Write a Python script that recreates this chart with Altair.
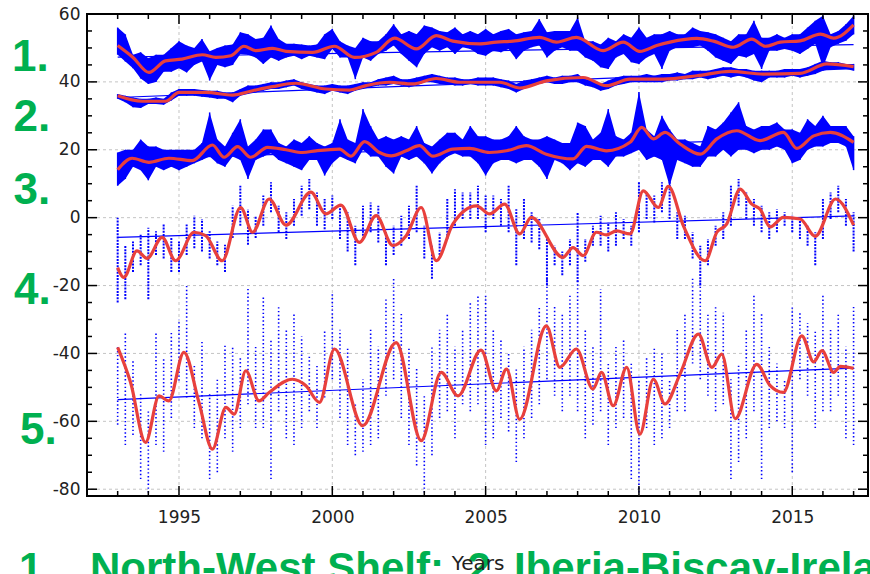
import altair as alt
import pandas as pd

# ---------------- data ----------------
bin_years = [1993 + q / 4 for q in range(97)]  # quarter-year sampling grid 1993.0 .. 2017.0

s1_hi = [56, 54, 48, 48.7, 47, 48, 48, 50, 52, 50.7, 50, 52.6, 49, 50, 50.7, 51,
         54.6, 54, 52.6, 53, 56.6, 52.6, 51.2, 51.2, 51, 50.7, 51, 54, 55.6, 52, 50.7, 50,
         53, 52, 52, 54, 57, 54, 55, 54, 56.6, 56, 55, 54.6, 56, 54, 55, 54,
         55.6, 54, 55, 55.6, 54, 54.6, 55, 58.5, 54.6, 55, 55, 55, 59, 52, 52, 51,
         53, 52, 54, 53, 56, 53, 54, 54, 55, 54, 54, 56, 55, 54.6, 54, 53,
         52, 54, 54, 58, 53, 53, 54, 53, 54, 54, 56, 58, 59.5, 54, 55, 57, 59.5]
s1_lo = [48, 46, 44, 41, 39.4, 40, 43, 43, 44, 42.8, 45, 46, 40.4, 45, 44.3, 45,
         48.2, 48, 47.2, 45.3, 47.2, 46.2, 47.2, 47.7, 46.7, 47.7, 47.2, 46.7, 49.7, 47.2, 47.2, 40.8,
         47.2, 46.2, 48.2, 49.2, 50.7, 48.2, 46.2, 44.3, 48.2, 50.2, 49.2, 50.2, 48.2, 50.2, 49.7, 48.2,
         47.7, 49.2, 48.7, 49.7, 46.7, 49.2, 50.2, 50.7, 47.2, 49.2, 50.2, 49.2, 49.2, 47.2, 46.2, 44.3,
         43.8, 47.2, 48.2, 45.8, 45.3, 47.2, 48.2, 43.8, 49.2, 50.2, 50.2, 50.2, 50.7, 49.2, 47.2, 46.2,
         45.3, 47.7, 47.2, 48.2, 43.8, 49.2, 49.2, 49.7, 49.2, 48.2, 49.7, 51.2, 44.3, 50.2, 51.2, 52.1, 54]

s2_hi = [36.4, 35.9, 35.4, 35.0, 35.0, 35.4, 35.0, 36.9, 37.9, 37.9, 37.9, 37.6, 37.4, 37.4, 36.9, 36.9,
         37.9, 38.9, 38.9, 39.4, 39.9, 39.9, 40.4, 40.8, 39.9, 39.4, 38.9, 38.9, 39.4, 38.9, 38.9, 39.4,
         39.9, 39.9, 40.8, 41.3, 41.8, 40.8, 40.8, 41.3, 41.8, 42.3, 41.8, 41.3, 41.3, 40.8, 40.8, 41.3,
         41.3, 41.3, 40.8, 40.4, 39.4, 40.4, 40.8, 41.3, 41.8, 41.3, 41.8, 41.8, 42.3, 40.8, 40.4, 39.4,
         40.4, 41.3, 41.8, 41.8, 41.8, 42.3, 41.8, 42.3, 42.3, 42.8, 42.3, 43.3, 43.3, 43.3, 43.8, 44.3,
         44.3, 43.8, 43.8, 43.3, 43.3, 43.3, 43.3, 43.8, 43.8, 43.8, 44.3, 45.3, 46.2, 45.8, 45.8, 45.3, 45.3]
s2_lo = [35.0, 34.0, 32.5, 32.3, 33.5, 33.5, 33.3, 34.5, 35.9, 35.9, 35.9, 35.6, 35.4, 35.0, 35.0, 34.0,
         35.9, 36.4, 36.9, 37.4, 37.9, 37.9, 38.4, 38.9, 37.9, 37.4, 36.9, 36.4, 37.4, 36.9, 36.4, 37.4,
         37.9, 38.4, 38.9, 38.9, 39.4, 38.9, 38.4, 38.9, 39.9, 39.9, 39.4, 39.4, 38.9, 38.9, 39.4, 38.9,
         38.9, 38.9, 38.4, 37.9, 36.9, 37.9, 38.9, 39.4, 39.9, 39.4, 39.4, 39.9, 39.9, 38.9, 38.4, 37.4,
         37.9, 38.9, 39.4, 39.9, 39.9, 39.9, 39.9, 39.9, 40.4, 40.4, 40.8, 40.8, 41.3, 40.8, 41.3, 41.8,
         41.3, 41.8, 41.3, 40.4, 39.9, 41.3, 41.3, 41.3, 41.8, 41.3, 41.8, 42.3, 43.3, 43.8, 43.8, 43.8, 43.3]

s3_hi = [19.2, 20, 20, 23, 21, 21, 20, 20, 20, 20, 20, 22, 31, 23, 21, 25,
         29, 21, 23, 26, 26, 22, 21, 23, 22, 24, 22, 21, 22, 29, 23, 22,
         32, 27, 23, 24, 23, 24, 23, 27, 22, 21, 23, 25, 25, 23, 27, 24,
         24, 23, 23, 24, 27, 24, 23, 23, 24, 23, 22, 22, 28, 27, 23, 25,
         32, 24, 23, 25, 37, 26, 24, 30, 26, 23, 23, 22, 21, 27, 26, 28,
         31, 34, 27, 26, 27, 27, 28, 26, 26, 25, 29, 27, 30, 27, 27, 27, 24]
s3_lo = [9.4, 11.4, 15, 14, 11, 15, 14, 15, 14, 15, 16, 17, 18, 16, 15, 18,
         17, 11.4, 17, 18, 19, 17, 16, 15, 14, 17, 17, 12.4, 16, 18, 17, 16,
         20, 18, 18, 15, 13, 18, 17, 18, 16, 13, 16, 18, 19, 18, 18, 16,
         12.4, 16, 17, 17, 16, 17, 17, 15, 11.4, 17, 16, 14, 16, 15, 17, 17,
         15, 18, 18, 19, 20, 17, 18, 17, 9.4, 17, 16, 15, 15, 18, 18, 20,
         18, 20, 20, 19, 20, 20, 21, 20, 16, 17, 20, 21, 21, 22, 22, 21, 14]

s4_hi = [0, -8, -7, -5, -3, -4, -2, -6, -7, -2, 0.6, -0.4, -4, -7, -8, 3.5,
         9.4, 2.5, 0.6, 6.5, 10.4, 3.5, 1.6, 5.5, 9.4, 11.4, 7.4, 5.5, 6.5, 3.5, 1.6, -2.4,
         3.5, 4.5, 3.5, -4.3, -2.4, 0.6, 3.5, 9.4, -2.4, -8.3, -4.3, 5.5, 8.4, 7.4, 7.4, 9.4,
         6.5, 6.5, 5.5, 9.4, 2.5, 5.5, 1.6, -0.4, -6.3, -8.3, -10, -6.3, 1.6, -6.3, -2.4, 0.6,
         -1.4, 1.6, -0.4, -2.4, 10.4, 7.4, 6.5, 10.4, 15, 1.6, 0.6, -4.3, -8.3, -6.3, -2.4, 1.6,
         9.4, 11.4, 7.4, 5.5, 3.5, 1.6, 2.5, 1.6, 0.6, -0.4, -2.4, -4.3, 5.5, 7.4, 9.4, 5.5, 1.6]
s4_lo = [-25, -24, -16, -14, -24, -11, -12, -16, -16, -11, -9, -10, -12, -14, -16, -6,
         -2.4, -8, -6, -2.4, 1.6, -4.3, -6.3, -2.4, 0.6, 2.5, -2.4, -3.4, -0.4, -6.3, -10, -14,
         -6.3, -4.3, -7.3, -14, -11, -8.3, -6.3, -4.3, -12, -18, -11, -6.3, -2.4, -0.4, -0.4, -0.4,
         -4.3, -0.4, -2.4, -4.3, -14, -6.3, -7.3, -9.3, -20, -14, -17, -14, -19, -13, -8.3, -8.3,
         -10, -8.3, -6.3, -8.3, -4.3, -0.4, -1.4, 1.6, -0.4, -6.3, -6.3, -12, -20, -14, -8.3, -6.3,
         -2.4, 3.5, -0.4, -2.4, -4.3, -6.3, -4.3, -2.4, -4.3, -6.3, -8.3, -14, -6.3, -0.4, 1.6, -2.4, -10]

s5_hi = [-38, -34, -42, -52, -57, -34, -41, -34, -30, -20, -43, -36, -52, -47.6, -37, -38,
         -41, -21, -38, -23, -36, -26, -33, -28, -35, -41, -43, -33, -22, -33, -38, -55,
         -47.6, -33, -38, -24, -18, -28, -38, -44, -52.5, -38, -33, -28, -38, -33, -25, -23,
         -23, -33, -36, -40, -44, -38, -33, -26, -18, -26, -28, -23, -18, -33, -38, -21,
         -43, -38, -36, -43, -47.6, -41, -38, -40, -47.6, -33, -28, -18, -19, -28, -26, -28,
         -47.6, -43, -33, -23, -28, -38, -43, -47.6, -26, -28, -31, -33, -23, -33, -28, -38, -26]
s5_lo = [-61, -67, -64, -77, -81, -67, -69, -59, -48, -53, -62, -65, -77, -75, -65, -69,
         -62, -55, -62, -62, -77, -57, -65, -67, -62, -57, -62, -53, -47.6, -59, -67, -70,
         -69, -67, -65, -52.5, -47.6, -59, -67, -73, -81, -70, -59, -57, -65, -55, -57, -55,
         -67, -65, -59, -63, -72, -65, -59, -55, -47.6, -52.5, -57, -52.5, -57, -65, -61, -57,
         -67, -62, -59, -77, -81, -62, -67, -65, -62, -57, -57, -43, -47.6, -52.5, -57, -55,
         -77, -72, -65, -57, -77, -62, -60, -62, -75, -47.6, -52.5, -62, -57, -57, -52.5, -65, -67]

# smoothed (red) curves
r1_x = [1993.0, 1993.5, 1994.02, 1994.56, 1995.1, 1995.76, 1996.2, 1996.69, 1997.12, 1997.5, 1998.05,
        1998.49, 1999.36, 2000.07, 2000.72, 2001.43, 2002.03, 2002.74, 2003.39, 2003.93, 2004.8, 2005.35,
        2005.89, 2006.76, 2007.31, 2007.96, 2008.83, 2009.49, 2010.03, 2010.58, 2011.01, 2011.89, 2012.43,
        2013.08, 2013.68, 2014.12, 2014.61, 2015.26, 2015.92, 2016.35, 2017.0]
r1_y = [50.7, 47.2, 42.8, 46.2, 46.7, 48.0, 47.2, 47.7, 50.5, 49.2, 49.9,
        49.0, 48.7, 50.5, 47.2, 48.7, 52.9, 49.7, 53.6, 52.0, 51.2, 51.7,
        52.0, 53.1, 51.7, 53.1, 49.2, 51.7, 49.0, 50.7, 51.7, 52.8, 52.0,
        50.2, 52.6, 50.5, 51.7, 52.1, 54.1, 52.9, 56.8]

r2_x = [1993.0, 1993.8, 1994.56, 1995.0, 1995.87, 1996.74, 1997.4, 1998.05, 1998.81, 1999.79, 2000.56,
        2001.1, 2001.86, 2002.62, 2003.39, 2004.15, 2005.46, 2006.11, 2006.98, 2008.18, 2008.94, 2009.71,
        2010.79, 2011.89, 2012.97, 2014.06, 2015.26, 2016.13, 2017.0]
r2_y = [35.9, 34.3, 34.3, 36.9, 36.9, 36.1, 37.4, 38.6, 39.6, 37.9, 37.6,
        38.9, 39.9, 39.4, 41.0, 39.9, 39.9, 38.2, 40.3, 41.3, 38.9, 40.8,
        40.8, 41.8, 43.1, 42.3, 42.5, 45.3, 44.5]

r3_x = [1993.0, 1993.47, 1994.02, 1994.67, 1995.43, 1996.09, 1996.47, 1996.91, 1997.34, 1997.89, 1998.49,
        1999.03, 1999.47, 2000.23, 2000.61, 2001.05, 2001.54, 2001.92, 2002.41, 2002.84, 2003.28, 2003.93,
        2004.48, 2005.13, 2005.68, 2006.33, 2006.98, 2007.85, 2008.29, 2008.94, 2009.71, 2010.09, 2010.47,
        2010.85, 2011.34, 2012.0, 2012.54, 2013.19, 2013.95, 2014.71, 2015.15, 2015.7, 2016.24, 2017.0]
r3_y = [14.1, 17.5, 16.3, 17.5, 16.8, 21.4, 17.8, 20.9, 17.8, 20.7, 20.0,
        19.2, 19.7, 20.2, 18.1, 22.4, 19.2, 18.2, 19.7, 21.2, 18.1, 20.2,
        20.4, 19.2, 19.7, 21.2, 18.7, 17.3, 21.0, 19.7, 22.2, 26.6, 23.2,
        25.1, 21.7, 18.7, 23.2, 25.6, 22.7, 25.1, 20.4, 24.1, 25.1, 22.2]

r4_x = [1993.0, 1993.2, 1993.63, 1993.96, 1994.45, 1994.89, 1995.49, 1995.87, 1996.41, 1997.01, 1997.4,
        1997.94, 1998.49, 1999.3, 1999.79, 2000.28, 2000.88, 2001.43, 2001.97, 2002.41, 2002.9, 2003.39,
        2003.93, 2004.7, 2005.13, 2005.62, 2006.11, 2006.49, 2007.52, 2007.85, 2008.18, 2008.61, 2008.94,
        2009.27, 2009.71, 2010.14, 2010.63, 2010.96, 2011.45, 2012.16, 2012.54, 2012.86, 2013.3, 2013.68,
        2013.95, 2014.28, 2014.71, 2015.26, 2015.75, 2016.41, 2017.0]
r4_y = [-14.7, -17.6, -9.8, -12.0, -5.8, -12.7, -4.3, -5.3, -12.7, 3.0, -4.3,
        5.5, -2.2, 7.5, 1.1, 3.7, -7.3, 0.6, -8.2, -5.3, 3.0, -12.7,
        -1.9, 3.5, 1.1, 4.0, -4.8, 0.1, -11.7, -8.8, -11.2, -4.3, -5.1,
        -3.9, -4.8, 7.9, 3.0, 9.2, -2.4, -12.7, -4.3, -1.9, 8.4, 4.0,
        2.5, -2.7, 0.1, -0.4, -5.5, 5.5, -2.2]

r5_x = [1993.0, 1993.42, 1993.91, 1994.35, 1994.67, 1995.16, 1995.65, 1996.09, 1996.53, 1996.8, 1997.18,
        1997.61, 1997.94, 1998.7, 1999.14, 1999.58, 2000.07, 2000.99, 2002.08, 2002.9, 2003.55, 2004.1,
        2004.85, 2005.35, 2005.68, 2006.11, 2006.98, 2007.42, 2007.96, 2008.5, 2008.78, 2009.16, 2009.6,
        2010.03, 2010.47, 2010.85, 2011.34, 2011.94, 2012.38, 2012.7, 2013.14, 2013.84, 2014.28, 2014.71,
        2015.31, 2015.7, 2015.97, 2016.35, 2016.57, 2017.0]
r5_y = [-38.2, -48.5, -66.2, -52.5, -54.0, -39.7, -54.4, -68.2, -55.9, -57.9, -45.1,
        -54.0, -51.5, -47.6, -49.5, -54.4, -38.7, -61.3, -36.8, -65.7, -45.6, -52.5,
        -39.0, -51.0, -44.6, -59.4, -31.9, -44.1, -38.7, -50.5, -45.6, -55.4, -44.1,
        -63.8, -47.6, -54.9, -46.1, -34.3, -44.1, -40.2, -59.2, -43.2, -49.5, -51.5,
        -34.8, -42.5, -39.2, -45.6, -43.8, -44.4]

# linear trends (start 1993, end 2017)
trend_x = [1993.0, 2017.0]
trend_start = [47.3, 35.4, 17.2, -5.8, -53.6]
trend_end = [51.0, 43.9, 23.7, 0.5, -44.3]

region_labels = ["1.", "2.", "3.", "4.", "5."]
region_label_y = [43.2, 25.5, 4.0, -25.5, -66.7]
bottom_num = "1."
bottom_text = "North-West Shelf;\u00a0 2. Iberia-Biscay-Ireland"

x_major = [1995, 2000, 2005, 2010, 2015]
x_minor = [y for y in range(1993, 2018) if y % 5 != 0]
y_major = [-80, -60, -40, -20, 0, 20, 40, 60]
y_minor = [v for v in range(-80, 61, 5) if v % 20 != 0]

# ---------------- tables ----------------
def band(name, hi, lo):
    return pd.DataFrame({"year": bin_years, "hi": hi, "lo": lo, "series": name})

band_dense = pd.concat([band("s1", s1_hi, s1_lo), band("s2", s2_hi, s2_lo), band("s3", s3_hi, s3_lo)])
band4 = band("s4", s4_hi, s4_lo)
band5 = band("s5", s5_hi, s5_lo)

smooth = pd.concat([
    pd.DataFrame({"year": xx, "v": yy, "series": n})
    for n, xx, yy in [("s1", r1_x, r1_y), ("s2", r2_x, r2_y), ("s3", r3_x, r3_y),
                      ("s4", r4_x, r4_y), ("s5", r5_x, r5_y)]
])
trend = pd.concat([
    pd.DataFrame({"year": trend_x, "v": [a, b], "series": f"s{i}"})
    for i, (a, b) in enumerate(zip(trend_start, trend_end))
])

# ---------------- layout / style ----------------
W, H = 781, 482
BLUE = "#0000ff"
RED = "#e8403c"
GREEN = "#00b050"
GRID = "#c4c4c4"

xs = alt.Scale(domain=[1992, 2017.47], nice=False, zero=False)
ys = alt.Scale(domain=[-82, 60], nice=False, zero=False)

xaxis = alt.Axis(values=x_major, labelExpr="'' + datum.value", title="Years", grid=False,
                 ticks=False, domain=False, labelFont="DejaVu Sans", labelFontSize=17,
                 labelColor="#222222", labelPadding=13, titleFont="DejaVu Sans",
                 titleFontSize=20, titleFontWeight="normal", titleColor="#222222",
                 titlePadding=28, zindex=1)
yaxis = alt.Axis(values=y_major, labelExpr="'' + datum.value", title="", grid=False,
                 ticks=False, domain=False, labelFont="DejaVu Sans", labelFontSize=17,
                 labelColor="#222222", labelPadding=7, zindex=1)


def X(field):
    return alt.X(field, type="quantitative", scale=xs, axis=xaxis)


def Y(field):
    return alt.Y(field, type="quantitative", scale=ys, axis=yaxis)


xmaj_df = pd.DataFrame({"t": x_major})
xmin_df = pd.DataFrame({"t": x_minor})
ymaj_df = pd.DataFrame({"t": y_major})
ymin_df = pd.DataFrame({"t": y_minor})
ygrid_df = pd.DataFrame({"t": [v for v in y_major if v != 60]})

layers = []
# grid
layers.append(alt.Chart(xmaj_df).mark_rule(color=GRID, strokeDash=[3, 3], strokeWidth=1).encode(x=X("t")))
layers.append(alt.Chart(ygrid_df).mark_rule(color=GRID, strokeDash=[3, 3], strokeWidth=1).encode(y=Y("t")))

# blue data
layers.append(alt.Chart(band_dense).mark_area(color=BLUE, interpolate="linear", opacity=1).encode(
    x=X("year"), y=Y("lo"), y2="hi", detail="series:N"))
layers.append(alt.Chart(band_dense).mark_rule(color=BLUE, strokeWidth=1.5).encode(
    x=X("year"), y=Y("lo"), y2="hi"))
layers.append(alt.Chart(band4).mark_rule(color=BLUE, strokeWidth=2, strokeDash=[2, 1.2]).encode(
    x=X("year"), y=Y("lo"), y2="hi"))
layers.append(alt.Chart(band5).mark_rule(color=BLUE, strokeWidth=1.6, strokeDash=[1.4, 2.4]).encode(
    x=X("year"), y=Y("lo"), y2="hi"))

# trends
layers.append(alt.Chart(trend).mark_line(color=BLUE, strokeWidth=1.2).encode(
    x=X("year"), y=Y("v"), detail="series:N"))

# smoothed red
layers.append(alt.Chart(smooth).mark_line(color=RED, strokeWidth=3.2, interpolate="monotone").encode(
    x=X("year"), y=Y("v"), detail="series:N"))

# inward ticks (bottom / top / left / right)
for df, ln in [(xmaj_df, 10), (xmin_df, 5)]:
    layers.append(alt.Chart(df).mark_rule(color="black", strokeWidth=1.5).encode(
        x=X("t"), y=alt.value(H), y2=alt.value(H - ln)))
    layers.append(alt.Chart(df).mark_rule(color="black", strokeWidth=1.5).encode(
        x=X("t"), y=alt.value(0), y2=alt.value(ln)))
for df, ln in [(ymaj_df, 10), (ymin_df, 5)]:
    layers.append(alt.Chart(df).mark_rule(color="black", strokeWidth=1.5).encode(
        y=Y("t"), x=alt.value(0), x2=alt.value(ln)))
    layers.append(alt.Chart(df).mark_rule(color="black", strokeWidth=1.5).encode(
        y=Y("t"), x=alt.value(W), x2=alt.value(W - ln)))

# green region labels
label_x = [-75, -73.5, -73.5, -73, -67]
for txt, yv, xp in zip(region_labels, region_label_y, label_x):
    layers.append(alt.Chart(pd.DataFrame({"v": [yv]})).mark_text(
        text=txt, color=GREEN, font="Liberation Sans", fontWeight="bold", fontSize=44,
        align="left", baseline="alphabetic").encode(x=alt.value(xp), y=Y("v")))

# green bottom caption (cut by the page edge as in the original)
layers.append(alt.Chart(pd.DataFrame({"a": [0]})).mark_text(
    text=bottom_num, color=GREEN, font="Liberation Sans", fontWeight="bold", fontSize=42,
    align="left", baseline="alphabetic").encode(x=alt.value(-68), y=alt.value(568)))
layers.append(alt.Chart(pd.DataFrame({"a": [0]})).mark_text(
    text=bottom_text, color=GREEN, font="Liberation Sans", fontWeight="bold", fontSize=42,
    align="left", baseline="alphabetic").encode(x=alt.value(3), y=alt.value(568)))

chart = alt.layer(*layers).properties(
    width=W, height=H,
    autosize=alt.AutoSizeParams(type="none"),
    padding={"left": 87, "top": 14, "right": 2, "bottom": 78},
    background="white",
).configure_view(stroke="black", strokeWidth=2)

chart.save("out.html", embed_options={"renderer": "svg", "actions": False})
